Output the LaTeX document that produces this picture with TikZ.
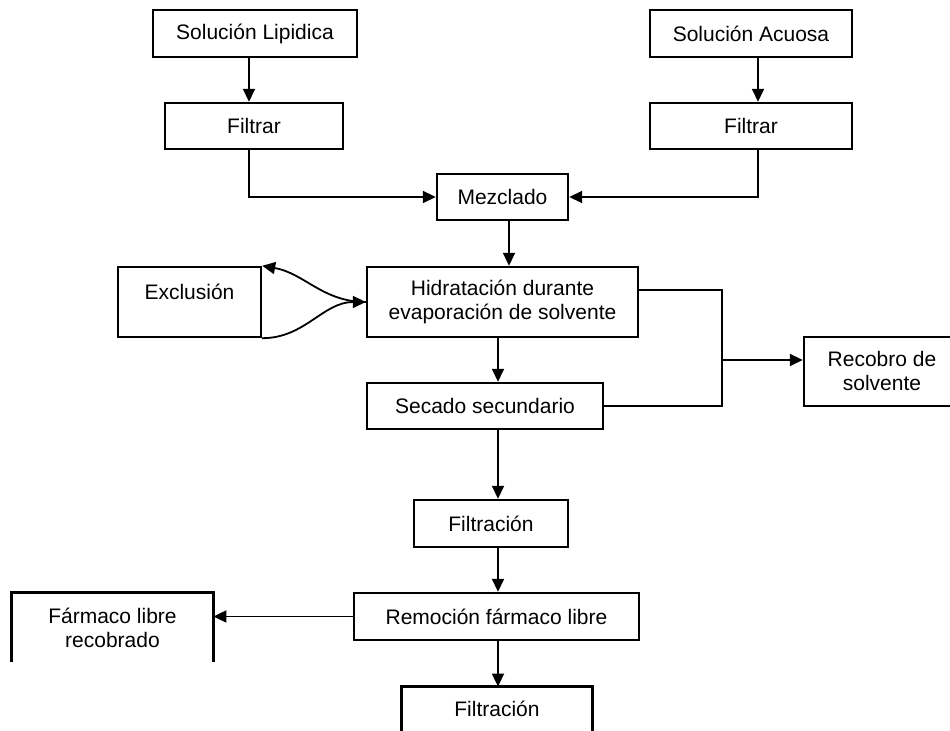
\documentclass[tikz,border=0pt]{standalone}
\usepackage{fontspec}
\setmainfont{Liberation Sans}
\usepackage{tikz}
\usetikzlibrary{arrows.meta}

\tikzset{
    caja/.style={draw, line width=1.2pt, inner sep=0pt, align=center},
    rotulo/.style={inner sep=0pt, align=center},
    linea/.style={line width=0.9pt},
    flecha/.style={linea, -{Triangle[length=6.5pt,width=6pt]}},
}

\begin{document}
\begin{tikzpicture}[x=0.5pt, y=-0.5pt, font=\fontsize{10.5}{12}\selectfont]
    \useasboundingbox (0,0) rectangle (950,731);

    % Columns of the connectors
    \coordinate (colA) at (249,0);
    \coordinate (colB) at (758,0);
    \coordinate (ejeM) at (509,0);
    \coordinate (eje) at (498,0);
    \coordinate (jn) at (722,360);

    % Input solutions
    \node[caja, minimum width=102pt, minimum height=23.5pt] (lip) at (255,33.5) {Solución Lipidica};
    \node[caja, minimum width=89pt, minimum height=23pt] (filA) at (254,126) {Filtrar};
    \node[caja, minimum width=101pt, minimum height=23.5pt] (aco) at (751,33.5) {Solución Acuosa};
    \node[caja, minimum width=101pt, minimum height=23pt] (filB) at (751,126) {Filtrar};

    % Main line
    \node[caja, minimum width=65.5pt, minimum height=23pt] (mez) at (502.5,197) {Mezclado};
    \node[caja, minimum width=135.5pt, minimum height=35pt] (hid) at (502.5,302) {Hidratación durante\\evaporación de solvente};
    \node[caja, minimum width=118pt, minimum height=23pt] (sec) at (485,406) {Secado secundario};
    \node[caja, minimum width=77pt, minimum height=23.5pt] (fil1) at (491,523.5) {Filtración};
    \node[caja, minimum width=142.5pt, minimum height=23.5pt] (rem) at (496.5,616.5) {Remoción fármaco libre};
    \node[rotulo, minimum width=95pt, minimum height=22pt] (fil2) at (497,709) {Filtración};
    \draw[line width=1.2pt] (fil2.south west) -- (fil2.north west) -- (fil2.north east) -- (fil2.south east);

    % Side boxes
    \node[caja, minimum width=71.5pt, minimum height=35pt, text height=8pt, text depth=10.5pt] (exc) at (189.5,302) {Exclusión};
    \node[caja, minimum width=78pt, minimum height=34.5pt] (rec) at (882,371.5) {Recobro de\\solvente};
    \node[rotulo, minimum width=100.5pt, minimum height=34.5pt] (far) at (112.5,627.5) {Fármaco libre\\recobrado};
    \draw[line width=1.2pt] (far.south west) -- (far.north west) -- (far.north east) -- (far.south east);

    % Connectors
    \draw[flecha] (lip.south -| colA) -- (filA.north -| colA);
    \draw[flecha] (aco.south -| colB) -- (filB.north -| colB);
    \draw[flecha] (filA.south -| colA) |- (mez.west);
    \draw[flecha] (filB.south -| colB) |- (mez.east);
    \draw[flecha] (mez.south -| ejeM) -- (hid.north -| ejeM);
    \draw[flecha] (hid.south -| eje) -- (sec.north -| eje);
    \draw[flecha] (sec.south -| eje) -- (fil1.north -| eje);
    \draw[flecha] (fil1.south -| eje) -- (rem.north -| eje);
    \draw[flecha] (rem.south -| eje) -- (fil2.north -| eje);
    \draw[flecha] (rem.west) -- (far.east |- rem.west);

    % Exclusion loop
    \draw[flecha] (hid.west) to[out=180, in=-10] (exc.north east);
    \draw[flecha] (exc.south east) to[out=0, in=180] (hid.west);

    % Solvent recovery
    \draw[linea] ([yshift=6pt]hid.east) -| (sec.east -| jn) -- (sec.east);
    \draw[flecha] (jn) -- (rec.west |- jn);
\end{tikzpicture}
\end{document}
